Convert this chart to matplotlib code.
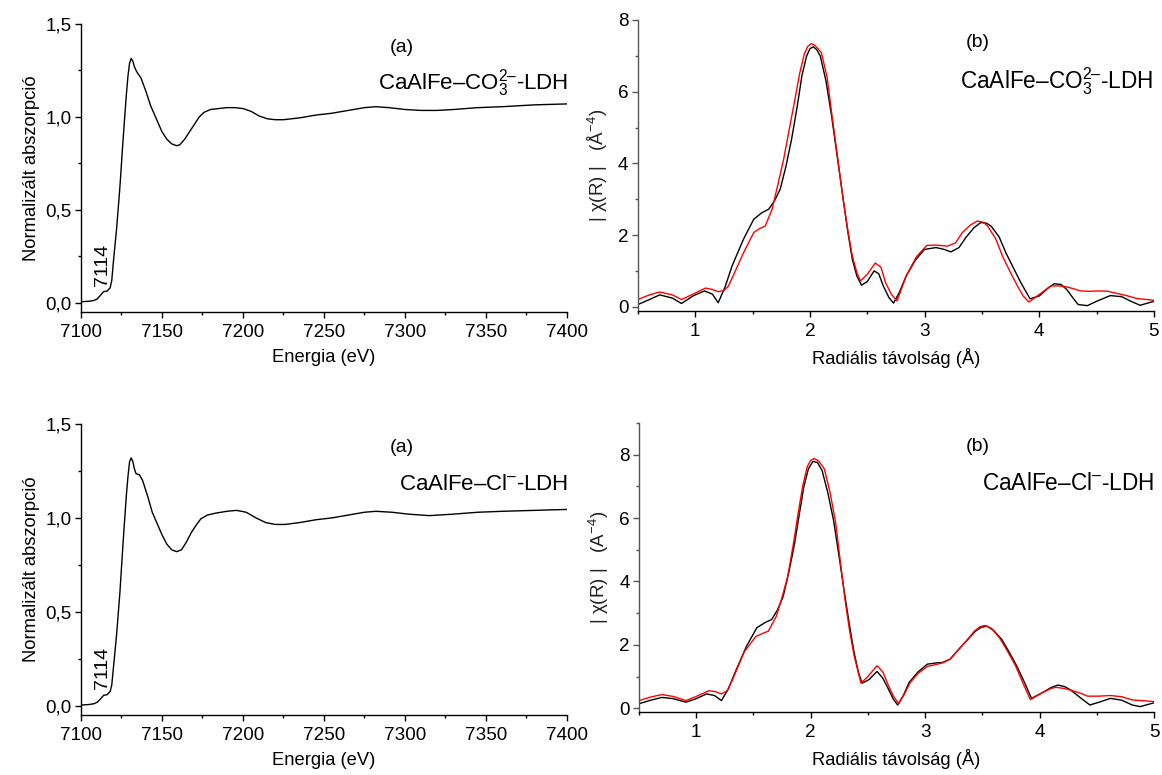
import matplotlib
matplotlib.use("Agg")
import matplotlib.pyplot as plt
from matplotlib.ticker import MultipleLocator, FuncFormatter

plt.rcParams['font.family'] = ['Liberation Sans', 'DejaVu Sans']
plt.rcParams['mathtext.fontset'] = 'custom'
plt.rcParams['mathtext.rm'] = 'Liberation Sans'
plt.rcParams['mathtext.it'] = 'Liberation Sans:italic'
plt.rcParams['mathtext.bf'] = 'Liberation Sans:bold'

# ---- XANES, CaAlFe-CO3 LDH ----
energy_co3 = [7100, 7105, 7108, 7110, 7112, 7114, 7116, 7118, 7119, 7120, 7122, 7124,
              7126, 7128, 7129, 7130, 7131, 7132, 7133, 7134, 7135, 7137, 7140, 7143,
              7146, 7148, 7150, 7153, 7156, 7159, 7161, 7164, 7167, 7170, 7173, 7176,
              7180, 7185, 7190, 7195, 7200, 7205, 7210, 7215, 7220, 7225, 7235, 7245,
              7255, 7265, 7275, 7282, 7290, 7300, 7310, 7320, 7330, 7345, 7360, 7380, 7400]
mu_co3 = [0.005, 0.008, 0.012, 0.02, 0.04, 0.06, 0.062, 0.08, 0.12, 0.22, 0.40, 0.62,
          0.88, 1.12, 1.22, 1.29, 1.315, 1.30, 1.27, 1.25, 1.235, 1.21, 1.14, 1.06,
          1.00, 0.96, 0.92, 0.88, 0.855, 0.845, 0.85, 0.88, 0.92, 0.96, 1.00, 1.025,
          1.04, 1.045, 1.05, 1.05, 1.045, 1.03, 1.005, 0.99, 0.985, 0.985, 0.995, 1.01,
          1.02, 1.035, 1.05, 1.055, 1.05, 1.04, 1.035, 1.035, 1.04, 1.05, 1.055, 1.065, 1.07]

# ---- XANES, CaAlFe-Cl LDH ----
energy_cl = [7100, 7105, 7108, 7110, 7112, 7114, 7116, 7118, 7119, 7120, 7122, 7124,
             7126, 7128, 7129, 7130, 7131, 7132, 7133, 7134, 7136, 7138, 7141, 7144,
             7147, 7150, 7153, 7156, 7159, 7162, 7165, 7168, 7171, 7174, 7178, 7183,
             7190, 7196, 7202, 7208, 7214, 7220, 7226, 7235, 7245, 7255, 7265, 7275,
             7282, 7292, 7302, 7315, 7330, 7345, 7360, 7380, 7400]
mu_cl = [0.003, 0.006, 0.01, 0.018, 0.035, 0.055, 0.058, 0.075, 0.11, 0.20, 0.38, 0.60,
         0.87, 1.12, 1.22, 1.30, 1.32, 1.30, 1.26, 1.235, 1.23, 1.20, 1.12, 1.03,
         0.97, 0.91, 0.86, 0.83, 0.82, 0.83, 0.87, 0.92, 0.96, 0.995, 1.015, 1.025,
         1.035, 1.04, 1.03, 1.00, 0.975, 0.965, 0.965, 0.975, 0.99, 1.00, 1.015, 1.03,
         1.035, 1.03, 1.02, 1.012, 1.02, 1.03, 1.035, 1.04, 1.045]

# ---- Fourier transform |chi(R)|, CO3 sample: measured and fit ----
r_exp_co3 = [0.5, 0.6, 0.69, 0.8, 0.88, 0.98, 1.08, 1.15, 1.2, 1.26, 1.32, 1.42, 1.51,
             1.58, 1.64, 1.69, 1.74, 1.79, 1.84, 1.89, 1.93, 1.97, 2.0, 2.03, 2.06, 2.09,
             2.14, 2.19, 2.24, 2.29, 2.33, 2.37, 2.41, 2.45, 2.5, 2.56, 2.6, 2.64, 2.69,
             2.73, 2.78, 2.84, 2.92, 3.0, 3.1, 3.17, 3.23, 3.3, 3.36, 3.43, 3.49, 3.54,
             3.58, 3.65, 3.71, 3.78, 3.84, 3.92, 4.0, 4.07, 4.13, 4.19, 4.24, 4.3, 4.34,
             4.42, 4.5, 4.62, 4.72, 4.8, 4.88, 5.0]
chi_exp_co3 = [0.06, 0.2, 0.33, 0.24, 0.09, 0.3, 0.44, 0.35, 0.11, 0.55, 1.13, 1.88, 2.44,
               2.62, 2.72, 2.95, 3.27, 3.9, 4.67, 5.6, 6.44, 6.98, 7.2, 7.25, 7.17, 7.0,
               6.3, 5.3, 4.15, 3.0, 2.1, 1.32, 0.85, 0.6, 0.7, 1.0, 0.92, 0.58, 0.25,
               0.1, 0.4, 0.86, 1.3, 1.6, 1.65, 1.6, 1.53, 1.65, 1.93, 2.2, 2.35, 2.33,
               2.25, 1.95, 1.5, 1.05, 0.67, 0.22, 0.3, 0.5, 0.64, 0.62, 0.48, 0.22, 0.06,
               0.03, 0.15, 0.31, 0.28, 0.15, 0.04, 0.15]
r_fit_co3 = [0.5, 0.6, 0.69, 0.8, 0.88, 0.98, 1.09, 1.15, 1.2, 1.25, 1.29, 1.35, 1.42,
             1.51, 1.56, 1.61, 1.67, 1.72, 1.77, 1.82, 1.87, 1.91, 1.95, 1.98, 2.01,
             2.04, 2.07, 2.1, 2.15, 2.19, 2.24, 2.29, 2.33, 2.37, 2.41, 2.44, 2.5,
             2.57, 2.62, 2.66, 2.71, 2.76, 2.84, 2.93, 3.02, 3.1, 3.2, 3.27, 3.33,
             3.4, 3.46, 3.51, 3.55, 3.62, 3.68, 3.75, 3.81, 3.86, 3.91, 4.0, 4.1, 4.17,
             4.23, 4.3, 4.36, 4.44, 4.52, 4.6, 4.65, 4.75, 4.85, 5.0]
chi_fit_co3 = [0.2, 0.33, 0.41, 0.33, 0.2, 0.35, 0.52, 0.48, 0.42, 0.45, 0.58, 1.0, 1.5,
               2.07, 2.18, 2.25, 2.72, 3.4, 4.1, 4.95, 5.8, 6.5, 7.04, 7.26, 7.34, 7.3,
               7.2, 7.09, 6.4, 5.4, 4.2, 3.0, 2.15, 1.41, 0.95, 0.72, 0.9, 1.22, 1.1,
               0.67, 0.35, 0.16, 0.86, 1.4, 1.71, 1.72, 1.69, 1.78, 2.07, 2.28, 2.39,
               2.36, 2.25, 1.9, 1.41, 0.95, 0.58, 0.3, 0.13, 0.34, 0.58, 0.58, 0.56, 0.5,
               0.44, 0.43, 0.44, 0.43, 0.39, 0.32, 0.23, 0.18]

# ---- Fourier transform |chi(R)|, Cl sample: measured and fit ----
r_exp_cl = [0.5, 0.6, 0.7, 0.8, 0.91, 1.0, 1.09, 1.16, 1.22, 1.28, 1.34, 1.44, 1.53,
            1.6, 1.66, 1.71, 1.76, 1.81, 1.86, 1.9, 1.94, 1.98, 2.02, 2.06, 2.1, 2.15,
            2.2, 2.25, 2.3, 2.34, 2.38, 2.42, 2.45, 2.51, 2.58, 2.63, 2.68, 2.72, 2.76,
            2.81, 2.86, 2.94, 3.02, 3.1, 3.15, 3.22, 3.28, 3.36, 3.44, 3.49, 3.54, 3.6,
            3.67, 3.73, 3.8, 3.87, 3.93, 4.03, 4.1, 4.16, 4.22, 4.27, 4.35, 4.44, 4.53,
            4.62, 4.72, 4.81, 4.88, 5.0]
chi_exp_cl = [0.14, 0.25, 0.34, 0.3, 0.19, 0.3, 0.45, 0.4, 0.24, 0.6, 1.13, 1.96, 2.54,
              2.7, 2.8, 3.1, 3.53, 4.3, 5.2, 6.1, 6.98, 7.55, 7.79, 7.75, 7.5, 6.8,
              5.93, 4.75, 3.53, 2.6, 1.75, 1.1, 0.79, 0.9, 1.16, 0.95, 0.6, 0.3, 0.1,
              0.4, 0.81, 1.15, 1.39, 1.43, 1.44, 1.55, 1.8, 2.12, 2.43, 2.55, 2.59, 2.45,
              2.17, 1.8, 1.34, 0.8, 0.31, 0.5, 0.65, 0.73, 0.68, 0.58, 0.35, 0.1, 0.2,
              0.31, 0.25, 0.1, 0.05, 0.17]
r_fit_cl = [0.5, 0.6, 0.7, 0.8, 0.91, 1.0, 1.11, 1.17, 1.22, 1.27, 1.32, 1.42, 1.52,
            1.58, 1.63, 1.7, 1.75, 1.8, 1.85, 1.89, 1.93, 1.97, 2.0, 2.03, 2.07, 2.12,
            2.17, 2.22, 2.26, 2.3, 2.34, 2.38, 2.44, 2.5, 2.58, 2.63, 2.68, 2.72, 2.77,
            2.82, 2.87, 2.94, 3.02, 3.1, 3.16, 3.22, 3.28, 3.36, 3.43, 3.48, 3.52, 3.58,
            3.65, 3.72, 3.79, 3.86, 3.92, 4.03, 4.1, 4.14, 4.22, 4.29, 4.36, 4.42, 4.52,
            4.62, 4.72, 4.81, 5.0]
chi_fit_cl = [0.24, 0.35, 0.43, 0.37, 0.24, 0.37, 0.55, 0.52, 0.45, 0.55, 0.92, 1.78, 2.26,
              2.36, 2.43, 2.9, 3.5, 4.16, 5.2, 6.14, 7.0, 7.62, 7.82, 7.88, 7.8, 7.55,
              6.8, 5.82, 4.6, 3.43, 2.45, 1.65, 0.79, 1.0, 1.34, 1.15, 0.71, 0.4, 0.14,
              0.45, 0.81, 1.1, 1.32, 1.38, 1.44, 1.55, 1.8, 2.12, 2.43, 2.57, 2.61, 2.52,
              2.22, 1.8, 1.34, 0.75, 0.27, 0.5, 0.62, 0.66, 0.62, 0.55, 0.47, 0.38, 0.38,
              0.4, 0.36, 0.26, 0.21]

xanes_ticks = [7100, 7150, 7200, 7250, 7300, 7350, 7400]
ft_ticks = [1, 2, 3, 4, 5]

name_co3 = 'CaAlFe–CO$_3^{2–}$-LDH'
name_cl = 'CaAlFe–Cl$^{–}$-LDH'

fig = plt.figure(figsize=(11.62, 7.75), dpi=100)
ax_tl = fig.add_axes([0.0697, 0.5974, 0.4182, 0.3716])
ax_tr = fig.add_axes([0.549, 0.5987, 0.444, 0.3755])
ax_bl = fig.add_axes([0.0697, 0.0774, 0.4182, 0.3755])
ax_br = fig.add_axes([0.5499, 0.0813, 0.4432, 0.3729])

comma = FuncFormatter(lambda v, p: f"{v:.1f}".replace('.', ','))


def style_axes(ax, left_color='black'):
    for s in ('top', 'right'):
        ax.spines[s].set_visible(False)
    ax.spines['left'].set_color(left_color)
    ax.spines['bottom'].set_color('black')
    for s in ('left', 'bottom'):
        ax.spines[s].set_linewidth(1.0)
    ax.tick_params(which='major', direction='out', length=4.3, width=1.0,
                   labelsize=13.6, colors='black')
    ax.tick_params(which='minor', direction='out', length=2.2, width=1.0)
    ax.tick_params(axis='x', which='major', pad=4)
    ax.tick_params(axis='y', which='major', pad=2.5)
    ax.tick_params(axis='y', which='both', color=left_color)


def xanes_panel(ax, e, mu, name):
    ax.plot(e, mu, color='black', lw=1.0)
    ax.set_xlim(7100, 7400)
    ax.set_ylim(-0.05, 1.5)
    ax.set_xticks(xanes_ticks)
    ax.xaxis.set_minor_locator(MultipleLocator(25))
    ax.yaxis.set_major_locator(MultipleLocator(0.5))
    ax.yaxis.set_minor_locator(MultipleLocator(0.25))
    ax.yaxis.set_major_formatter(comma)
    style_axes(ax)
    ax.set_xlabel('Energia (eV)', fontsize=13.2, labelpad=6)
    ax.set_ylabel('Normalizált abszorpció', fontsize=13.2, labelpad=4)
    ax.text(7298, 1.375, '(a)', fontsize=14, ha='center', va='center')
    ax.text(7401, 1.18, name, fontsize=16, ha='right', va='center')
    ax.text(7113, 0.09, '7114', fontsize=14, rotation=90, ha='center', va='bottom')


def ft_panel(ax, r1, c1, r2, c2, name, ymax, unit, b_y, name_y):
    ax.plot(r1, c1, color='black', lw=1.0)
    ax.plot(r2, c2, color='red', lw=1.0)
    ax.set_xlim(0.5, 5.0)
    ax.set_ylim(-0.12, ymax)
    ax.set_xticks(ft_ticks)
    ax.xaxis.set_minor_locator(MultipleLocator(0.5))
    ax.yaxis.set_major_locator(MultipleLocator(2))
    ax.yaxis.set_minor_locator(MultipleLocator(1))
    style_axes(ax, left_color='#555555')
    ax.set_xlabel('Radiális távolság (Å)', fontsize=13.2, labelpad=6)
    ax.set_ylabel('| χ(R) |   (' + unit + '$^{-4}$)', fontsize=13.5,
                  labelpad=6, color='#222222')
    ax.text(3.46, b_y, '(b)', fontsize=14, ha='center', va='center')
    ax.text(5.0, name_y, name, fontsize=16.3, ha='right', va='center')


xanes_panel(ax_tl, energy_co3, mu_co3, name_co3)
xanes_panel(ax_bl, energy_cl, mu_cl, name_cl)
ft_panel(ax_tr, r_exp_co3, chi_exp_co3, r_fit_co3, chi_fit_co3,
         name_co3, 8.0, 'Å', 7.37, 6.28)
ft_panel(ax_br, r_exp_cl, chi_exp_cl, r_fit_cl, chi_fit_cl,
         name_cl, 9.0, 'A', 8.26, 7.08)

fig.savefig('out.png', dpi=100)
